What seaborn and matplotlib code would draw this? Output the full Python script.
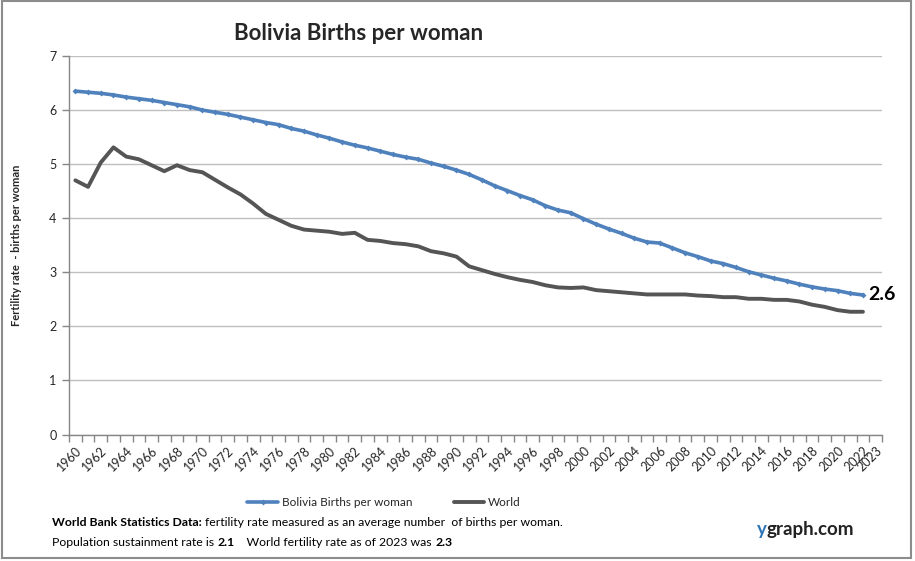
"""
Bolivia births per woman vs world - line chart
"""

import numpy as np
import pandas as pd
import matplotlib
matplotlib.use("Agg")
import matplotlib.pyplot as plt
import seaborn as sns
from matplotlib.patches import Rectangle

years = list(range(1960, 2023))

bolivia = [6.35, 6.33, 6.31, 6.28, 6.24, 6.21, 6.18, 6.14, 6.10, 6.06,
           6.00, 5.96, 5.92, 5.87, 5.82, 5.77, 5.73, 5.66, 5.61, 5.54,
           5.48, 5.41, 5.35, 5.30, 5.24, 5.18, 5.13, 5.09, 5.02, 4.96,
           4.89, 4.81, 4.71, 4.60, 4.51, 4.42, 4.34, 4.23, 4.15, 4.10,
           3.99, 3.89, 3.80, 3.72, 3.63, 3.56, 3.54, 3.45, 3.36, 3.29,
           3.21, 3.16, 3.09, 3.01, 2.95, 2.89, 2.84, 2.78, 2.73, 2.69,
           2.66, 2.61, 2.58]

world = [4.70, 4.58, 5.03, 5.31, 5.14, 5.09, 4.98, 4.87, 4.98, 4.89,
         4.85, 4.71, 4.57, 4.44, 4.27, 4.08, 3.97, 3.86, 3.79, 3.77,
         3.75, 3.71, 3.73, 3.60, 3.58, 3.54, 3.52, 3.48, 3.39, 3.35,
         3.29, 3.11, 3.04, 2.97, 2.91, 2.86, 2.82, 2.76, 2.72, 2.71,
         2.72, 2.67, 2.65, 2.63, 2.61, 2.59, 2.59, 2.59, 2.59, 2.57,
         2.56, 2.54, 2.54, 2.51, 2.51, 2.49, 2.49, 2.46, 2.40, 2.36,
         2.30, 2.27, 2.27]

tick_years = list(range(1960, 2023, 2)) + [2023]
series_names = ["Bolivia Births per woman", "World"]
last_label = "2.6"

BLUE = "#4F81BD"
GREY = "#555555"
FONT = "Lato"

sns.set_theme(style="white")
plt.rcParams["font.family"] = [FONT, "DejaVu Sans"]

df = pd.DataFrame({
    "year": years * 2,
    "rate": bolivia + world,
    "series": [series_names[0]] * len(years) + [series_names[1]] * len(years),
})

fig = plt.figure(figsize=(9.15, 5.61), dpi=100)
ax = fig.add_axes([69 / 915, 1 - 434.5 / 561, 813 / 915, 378.5 / 561])

sns.lineplot(data=df[df.series == series_names[0]], x="year", y="rate",
             color=BLUE, lw=2.6, marker="D", markersize=3, markeredgewidth=0,
             ax=ax, label=series_names[0])
sns.lineplot(data=df[df.series == series_names[1]], x="year", y="rate",
             color=GREY, lw=2.8, ax=ax, label=series_names[1])

ax.set_xlim(1959.5, 2023.5)
ax.set_ylim(0, 7)
ax.set_yticks(range(0, 8))
ax.set_yticklabels([str(v) for v in range(0, 8)], fontsize=9)
ax.yaxis.grid(True, color="#BFBFBF", lw=1)
ax.xaxis.grid(False)

ax.set_xticks(tick_years)
ax.set_xticklabels([str(y) for y in tick_years], rotation=45, ha="right",
                   rotation_mode="anchor", fontsize=9)
ax.set_xticks(np.arange(1959.5, 2024.5, 1), minor=True)
ax.tick_params(axis="x", which="major", length=0, pad=7)
ax.tick_params(axis="x", which="minor", length=5, color="#868686", width=1,
               direction="out", bottom=True)
ax.tick_params(axis="y", which="major", length=5, color="#868686", width=1,
               direction="out", left=True, pad=4)

for side in ["top", "right"]:
    ax.spines[side].set_visible(False)
for side in ["left", "bottom"]:
    ax.spines[side].set_color("#868686")
    ax.spines[side].set_linewidth(1)

ax.set_xlabel("")
ax.set_ylabel("Fertility rate  - births per woman", fontsize=8, fontweight="bold")
ax.yaxis.set_label_coords(-47 / 813, 0.5)

ax.text(years[-1] + 0.45, bolivia[-1], last_label, fontsize=14, fontweight="bold",
        va="center", ha="left", color="black")

leg = ax.legend(loc="center", bbox_to_anchor=(315 / 813, (434.5 - 503) / 378.5),
                ncol=2, frameon=False, fontsize=8.5, handlelength=2.6,
                columnspacing=3.5, handletextpad=0.3)

fig.text(359 / 915, 1 - 33 / 561, "Bolivia Births per woman", fontsize=16,
         fontweight="bold", ha="center", va="center")

# footer, with bold pieces placed one after another
renderer = fig.canvas.get_renderer()


def write_line(x, y, parts, size=8.8):
    for txt, bold, color in parts:
        t = fig.text(x, y, txt, fontsize=size, fontweight="bold" if bold else "normal",
                     color=color, ha="left", va="center")
        bb = t.get_window_extent(renderer=renderer)
        x += bb.width / fig.bbox.width


write_line(52 / 915, 1 - 523 / 561, [
    ("World Bank Statistics Data: ", True, "black"),
    ("fertility rate measured as an average number  of births per woman.", False, "black"),
])
write_line(52 / 915, 1 - 543 / 561, [
    ("Population sustainment rate is ", False, "black"),
    ("2.1", True, "black"),
    ("    World fertility rate as of 2023 was ", False, "black"),
    ("2.3", True, "black"),
])
write_line(757 / 915, 1 - 530 / 561, [
    ("y", True, "#2E75B6"),
    ("graph.com", True, "#222222"),
], size=13.5)

# grey frame around the picture
fig.patches.append(Rectangle((0.002, 0.005), 0.994, 0.993, transform=fig.transFigure,
                             fill=False, edgecolor="#8C8C8C", lw=1.5))

fig.savefig("out.png", dpi=100)
plt.close(fig)
